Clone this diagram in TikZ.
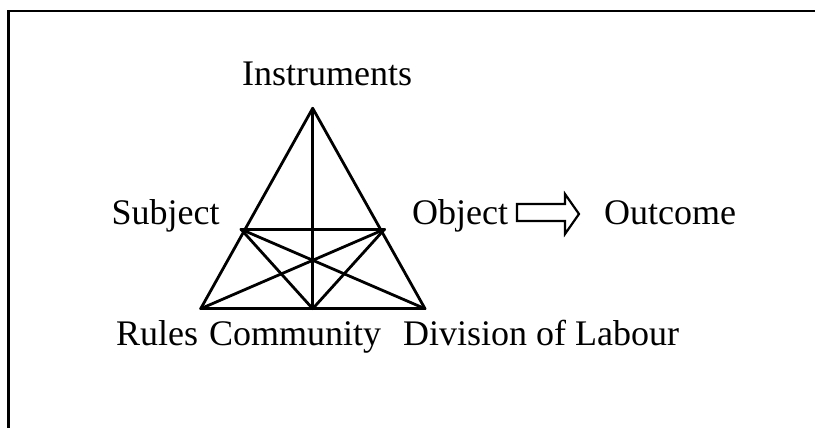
\documentclass[tikz,border=0pt]{standalone}
\usepackage{fontspec}
\setmainfont{Liberation Serif}
\begin{document}
\begin{tikzpicture}[x=1pt,y=-1pt,
  edge/.style={line width=2.8pt, line cap=round, line join=round},
  frame/.style={line width=2.6pt},
  blockarrow/.style={line width=2.2pt, line join=miter},
  lbl/.style={anchor=base west, inner sep=0pt, font=\fontsize{36}{43}\selectfont}]
\useasboundingbox (0,0) rectangle (815,428);
% frame (only the top and left sides are visible)
\coordinate (f1) at (8.7,432);
\coordinate (f2) at (8.7,11);
\coordinate (f3) at (819,11);
\draw[frame] (f1) -- (f2) -- (f3);
% vertices
\coordinate (I) at (312.7,108.3);
\coordinate (S) at (241,229.3);
\coordinate (O) at (384.5,229.3);
\coordinate (R) at (200.7,308.7);
\coordinate (C) at (312.7,308.7);
\coordinate (D) at (425,308.7);
% connectors
\draw[edge] (I) -- (R);
\draw[edge] (I) -- (D);
\draw[edge] (I) -- (C);
\draw[edge] (S) -- (O);
\draw[edge] (R) -- (D);
\draw[edge] (S) -- (C);
\draw[edge] (S) -- (D);
\draw[edge] (O) -- (R);
\draw[edge] (O) -- (C);
% labels
\node[lbl] (tI) at (242,85) {Instruments};
\node[lbl] (tS) at (111.5,224.5) {Subject};
\node[lbl] (tO) at (412,224) {Object};
\node[lbl] (tOut) at (604,224) {Outcome};
\node[lbl] (tR) at (116,345) {Rules};
\node[lbl] (tC) at (209,345) {Community};
\node[lbl] (tD) at (403,345) {Division of Labour};
% block arrow Object => Outcome
\coordinate (a1) at (517,204);
\coordinate (a2) at (565,204);
\coordinate (a3) at (565,194);
\coordinate (a4) at (579,214);
\coordinate (a5) at (565,234);
\coordinate (a6) at (565,221);
\coordinate (a7) at (517,221);
\draw[blockarrow] (a1) -- (a2) -- (a3) -- (a4) -- (a5) -- (a6) -- (a7) -- cycle;
\end{tikzpicture}
\end{document}
